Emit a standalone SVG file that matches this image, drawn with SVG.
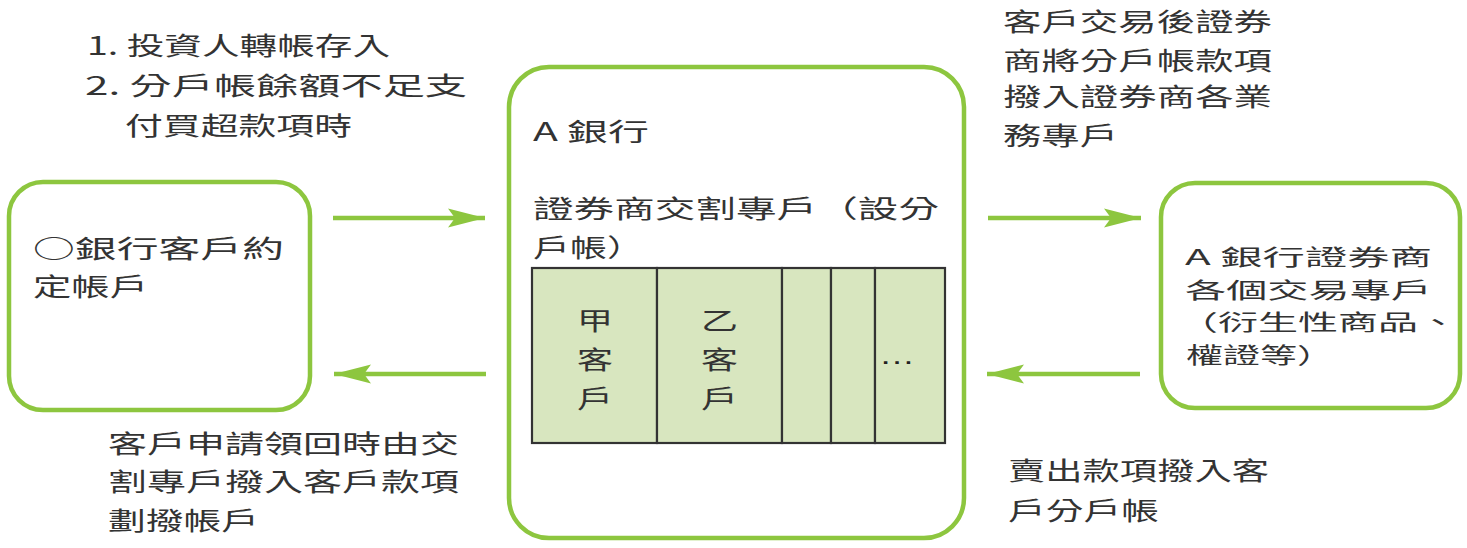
<svg xmlns="http://www.w3.org/2000/svg" width="1467" height="548" viewBox="0 0 1467 548">
  <style>
    .box { fill: #ffffff; stroke: #8dc63f; stroke-width: 4.5; }
    .cell { fill: #d8e6bf; stroke: #333333; stroke-width: 2.2; }
    .t { font-family: "Noto Sans CJK TC", "Noto Sans CJK SC", sans-serif; font-size: 25px; fill: #333333; }
    .ts { font-family: "Noto Sans CJK TC", "Noto Sans CJK SC", sans-serif; font-size: 22px; fill: #333333; }
    .dots { font-family: "Liberation Sans", sans-serif; font-size: 26px; fill: #222222; }
    .arrow { stroke: #8dc63f; stroke-width: 4.5; fill: none; }
  </style>
  <defs>
    <marker id="ah" markerUnits="userSpaceOnUse" markerWidth="40" markerHeight="24" refX="37" refY="10" orient="auto">
      <path d="M0,0.5 L37,10 L0,19.5 L7,10 Z" fill="#8dc63f"/>
    </marker>
  </defs>
  <rect width="1467" height="548" fill="#ffffff"/>

  <g id="node-left">
    <rect class="box" x="9" y="182" width="301" height="228" rx="34" ry="34"/>
    <text class="t" x="33" y="258" textLength="251" lengthAdjust="spacingAndGlyphs">○銀行客戶約</text>
    <text class="t" x="33" y="296" textLength="115" lengthAdjust="spacingAndGlyphs">定帳戶</text>
  </g>

  <g id="node-center">
    <rect class="box" x="509" y="67" width="455" height="471" rx="40" ry="40"/>
    <text class="t" x="533" y="141" textLength="116" lengthAdjust="spacingAndGlyphs">A 銀行</text>
    <text class="t" x="533" y="218" textLength="406" lengthAdjust="spacingAndGlyphs">證券商交割專戶（設分</text>
    <text class="t" x="533" y="257" textLength="111" lengthAdjust="spacingAndGlyphs">戶帳）</text>
    <g id="subaccounts">
      <rect class="cell" x="532" y="268" width="125" height="175"/>
      <rect class="cell" x="657" y="268" width="125" height="175"/>
      <rect class="cell" x="782" y="268" width="49" height="175"/>
      <rect class="cell" x="831" y="268" width="44" height="175"/>
      <rect class="cell" x="875" y="268" width="70" height="175"/>
      <text class="t" x="577" y="330" textLength="36" lengthAdjust="spacingAndGlyphs">甲</text>
      <text class="t" x="577" y="369" textLength="36" lengthAdjust="spacingAndGlyphs">客</text>
      <text class="t" x="577" y="408" textLength="36" lengthAdjust="spacingAndGlyphs">戶</text>
      <text class="t" x="701" y="330" textLength="37" lengthAdjust="spacingAndGlyphs">乙</text>
      <text class="t" x="701" y="369" textLength="37" lengthAdjust="spacingAndGlyphs">客</text>
      <text class="t" x="701" y="408" textLength="37" lengthAdjust="spacingAndGlyphs">戶</text>
      <text class="dots" x="879" y="364" textLength="36" lengthAdjust="spacingAndGlyphs">…</text>
    </g>
  </g>

  <g id="node-right">
    <rect class="box" x="1161" y="183" width="299" height="225" rx="34" ry="34"/>
    <text class="ts" x="1185" y="265" textLength="247" lengthAdjust="spacingAndGlyphs">A 銀行證券商</text>
    <text class="ts" x="1185" y="298" textLength="247" lengthAdjust="spacingAndGlyphs">各個交易專戶</text>
    <text class="ts" x="1178" y="330" textLength="280" lengthAdjust="spacingAndGlyphs">（衍生性商品、</text>
    <text class="ts" x="1186" y="363" textLength="148" lengthAdjust="spacingAndGlyphs">權證等）</text>
  </g>

  <g id="connectors">
    <line class="arrow" x1="333" y1="218" x2="485" y2="218" marker-end="url(#ah)"/>
    <line class="arrow" x1="486" y1="374" x2="334" y2="374" marker-end="url(#ah)"/>
    <line class="arrow" x1="988" y1="218" x2="1141" y2="218" marker-end="url(#ah)"/>
    <line class="arrow" x1="1140" y1="374" x2="987" y2="374" marker-end="url(#ah)"/>
  </g>

  <g id="labels">
    <text class="t" x="87" y="55" textLength="303" lengthAdjust="spacingAndGlyphs">1. 投資人轉帳存入</text>
    <text class="t" x="85" y="95" textLength="382" lengthAdjust="spacingAndGlyphs">2. 分戶帳餘額不足支</text>
    <text class="t" x="125" y="135" textLength="227" lengthAdjust="spacingAndGlyphs">付買超款項時</text>

    <text class="t" x="1003" y="31" textLength="269" lengthAdjust="spacingAndGlyphs">客戶交易後證券</text>
    <text class="t" x="1003" y="70" textLength="269" lengthAdjust="spacingAndGlyphs">商將分戶帳款項</text>
    <text class="t" x="1003" y="106" textLength="269" lengthAdjust="spacingAndGlyphs">撥入證券商各業</text>
    <text class="t" x="1003" y="145" textLength="115" lengthAdjust="spacingAndGlyphs">務專戶</text>

    <text class="t" x="108" y="453" textLength="351" lengthAdjust="spacingAndGlyphs">客戶申請領回時由交</text>
    <text class="t" x="108" y="491" textLength="351" lengthAdjust="spacingAndGlyphs">割專戶撥入客戶款項</text>
    <text class="t" x="108" y="530" textLength="151" lengthAdjust="spacingAndGlyphs">劃撥帳戶</text>

    <text class="t" x="1008" y="480" textLength="261" lengthAdjust="spacingAndGlyphs">賣出款項撥入客</text>
    <text class="t" x="1008" y="520" textLength="151" lengthAdjust="spacingAndGlyphs">戶分戶帳</text>
  </g>
</svg>
